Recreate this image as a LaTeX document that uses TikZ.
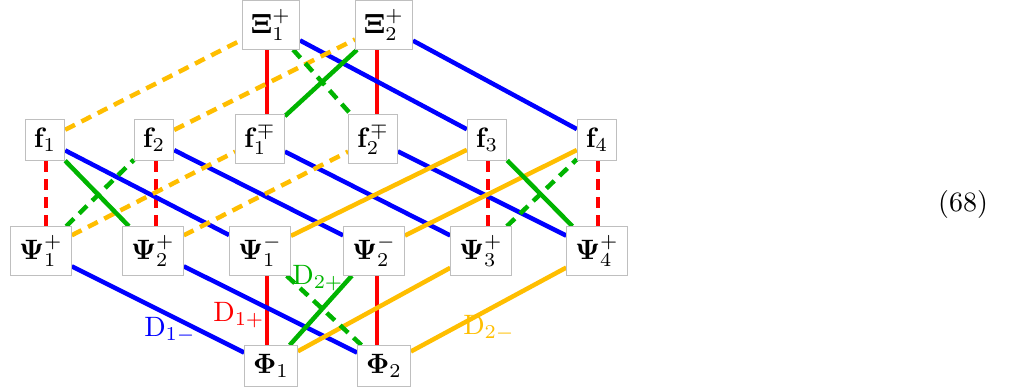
\documentclass[tikz,border=0pt]{standalone}
\usepackage{amsmath,bm}
\usetikzlibrary{backgrounds}
\definecolor{cblue}{RGB}{0,0,255}
\definecolor{cred}{RGB}{255,0,0}
\definecolor{cgreen}{RGB}{0,180,0}
\definecolor{corange}{RGB}{255,190,0}
\tikzset{
  box/.style={draw=black!25, fill=white, line width=0.4pt, inner sep=3pt, minimum height=14.5pt},
  ln/.style={line width=1.6pt},
  dsh/.style={line width=1.6pt, dash pattern=on 3.9pt off 2.6pt},
  lab/.style={inner sep=0pt},
}
\begin{document}
\begin{tikzpicture}[x=0.357pt,y=-0.357pt]
\useasboundingbox (0,0) rectangle (1018,391);
\node[box] (Xi1) at (271,25) {$\bm{\Xi}_1^+$};
\node[box] (Xi2) at (384,25) {$\bm{\Xi}_2^+$};
\node[box] (f1) at (45,140) {$\mathbf{f}_1$};
\node[box] (f2) at (154,140) {$\mathbf{f}_2$};
\node[box] (f1m) at (260,139) {$\mathbf{f}_1^\mp$};
\node[box] (f2m) at (373,139) {$\mathbf{f}_2^\mp$};
\node[box] (f3) at (487,140) {$\mathbf{f}_3$};
\node[box] (f4) at (597,140) {$\mathbf{f}_4$};
\node[box] (P1p) at (41,251) {$\bm{\Psi}_1^+$};
\node[box] (P2p) at (153,251) {$\bm{\Psi}_2^+$};
\node[box] (P1m) at (260,251) {$\bm{\Psi}_1^-$};
\node[box] (P2m) at (374,251) {$\bm{\Psi}_2^-$};
\node[box] (P3p) at (481,251) {$\bm{\Psi}_3^+$};
\node[box] (P4p) at (597,251) {$\bm{\Psi}_4^+$};
\node[box] (Ph1) at (271,366) {$\bm{\Phi}_1$};
\node[box] (Ph2) at (384,366) {$\bm{\Phi}_2$};
\coordinate (x1) at (267,0);
\coordinate (x2) at (377,0);
\coordinate (x3) at (46,0);
\coordinate (x4) at (156,0);
\coordinate (x5) at (488,0);
\coordinate (x6) at (598,0);
\begin{scope}[on background layer]
% red
\draw[ln,cred] (Xi1.south -| x1) -- (f1m.north -| x1);
\draw[ln,cred] (Xi2.south -| x2) -- (f2m.north -| x2);
\draw[ln,cred] (P1m.south -| x1) -- (Ph1.north -| x1);
\draw[ln,cred] (P2m.south -| x2) -- (Ph2.north -| x2);
\draw[dsh,cred] (f1.south -| x3) -- (P1p.north -| x3);
\draw[dsh,cred] (f2.south -| x4) -- (P2p.north -| x4);
\draw[dsh,cred] (f3.south -| x5) -- (P3p.north -| x5);
\draw[dsh,cred] (f4.south -| x6) -- (P4p.north -| x6);
% blue
\draw[ln,cblue] (Xi1) -- (f3);
\draw[ln,cblue] (Xi2) -- (f4);
\draw[ln,cblue] (f1) -- (P1m);
\draw[ln,cblue] (f2) -- (P2m);
\draw[ln,cblue] (f1m) -- (P3p);
\draw[ln,cblue] (f2m) -- (P4p);
\draw[ln,cblue] (P1p) -- (Ph1);
\draw[ln,cblue] (P2p) -- (Ph2);
% orange
\draw[dsh,corange] (f1) -- (Xi1);
\draw[dsh,corange] (f2) -- (Xi2);
\draw[dsh,corange] (P1p) -- (f1m);
\draw[dsh,corange] (P2p) -- (f2m);
\draw[ln,corange] (P1m) -- (f3);
\draw[ln,corange] (P2m) -- (f4);
\draw[ln,corange] (Ph1) -- (P3p);
\draw[ln,corange] (Ph2) -- (P4p);
% green
\draw[ln,cgreen] (f1) -- (P2p);
\draw[ln,cgreen] (f1m) -- (Xi2);
\draw[ln,cgreen] (f3) -- (P4p);
\draw[ln,cgreen] (Ph1) -- (P2m);
\draw[dsh,cgreen] (P1p) -- (f2);
\draw[dsh,cgreen] (Xi1) -- (f2m);
\draw[dsh,cgreen] (P3p) -- (f4);
\draw[dsh,cgreen] (P1m) -- (Ph2);
\end{scope}
\node[lab,text=cblue] (L1) at (170,330) {D$_{1-}$};
\node[lab,text=cred] (L2) at (239,315) {D$_{1+}$};
\node[lab,text=cgreen] (L3) at (318,278) {D$_{2+}$};
\node[lab,text=corange] (L4) at (489,328) {D$_{2-}$};
\node[lab] (eq) at (963,205) {(68)};
\end{tikzpicture}
\end{document}
